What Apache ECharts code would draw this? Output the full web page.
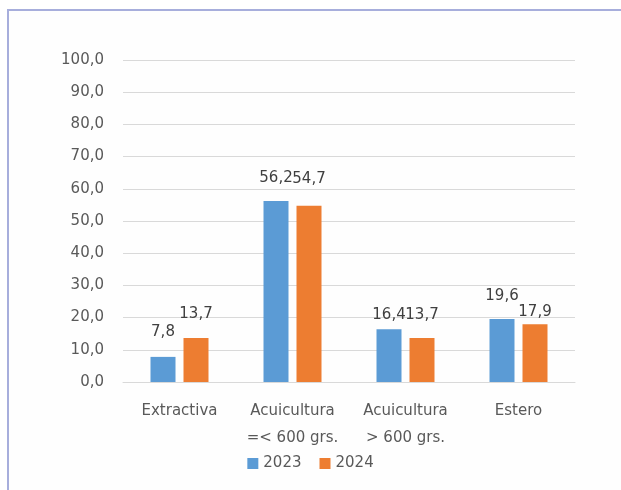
<!DOCTYPE html>
<html>
<head>
<meta charset="utf-8">
<script src="https://cdn.jsdelivr.net/npm/echarts@6/dist/echarts.min.js"></script>
<style>
  html, body { margin: 0; padding: 0; background: #ffffff; overflow: hidden; width: 621px; height: 490px; }
  #frame { position: absolute; left: 7px; top: 9px; width: 612px; height: 479px;
           border-left: 2px solid #a7aedc; border-top: 2px solid #a7aedc; background: #fefefe; }
  #chart { position: absolute; left: 0; top: 0; width: 621px; height: 490px; }
</style>
</head>
<body>
<div id="frame"></div>
<div id="chart"></div>
<script>
const categories = ['Extractiva', 'Acuicultura\n=< 600 grs.', 'Acuicultura\n> 600 grs.', 'Estero'];
const seriesNames = ['2023', '2024'];
const values2023 = [7.8, 56.2, 16.4, 19.6];
const values2024 = [13.7, 54.7, 13.7, 17.9];
const yTicks = [0, 10, 20, 30, 40, 50, 60, 70, 80, 90, 100];

// label placement tweaks (style only)
const labelDist2023 = [17, 15, 7, 15];
const labelDist2024 = [16, 19, 15, 5];

const fmt = v => v.toFixed(1).replace('.', ',');
const font = 'DejaVu Sans';

function mkData(vals, dists) {
  return vals.map((v, i) => ({ value: v, label: { distance: dists[i] } }));
}

const chart = echarts.init(document.getElementById('chart'), null, { renderer: 'canvas' });
chart.setOption({
  animation: false,
  backgroundColor: 'transparent',
  color: ['#5b9bd5', '#ed7d31'],
  grid: { left: 123, right: 46, top: 60, bottom: 108, containLabel: false },
  legend: {
    data: seriesNames,
    bottom: 14,
    left: 'center',
    itemWidth: 11, itemHeight: 11, itemGap: 18,
    icon: 'rect',
    textStyle: { fontFamily: font, fontSize: 15, color: '#595959' }
  },
  xAxis: {
    type: 'category',
    data: categories,
    axisLine: { lineStyle: { color: '#d9d9d9', width: 1 } },
    axisTick: { show: false },
    axisLabel: { fontFamily: font, fontSize: 15, color: '#595959', margin: 16, lineHeight: 27, interval: 0 }
  },
  yAxis: {
    type: 'value',
    min: 0, max: 100, interval: 10,
    axisLine: { show: false },
    axisTick: { show: false },
    splitLine: { lineStyle: { color: '#d9d9d9', width: 1 } },
    axisLabel: { fontFamily: font, fontSize: 15, color: '#595959', margin: 19,
      formatter: v => yTicks.includes(v) ? fmt(v) : '' }
  },
  series: [
    { name: seriesNames[0], type: 'bar', data: mkData(values2023, labelDist2023),
      barWidth: 25, barGap: '32%',
      label: { show: true, position: 'top', fontFamily: font, fontSize: 15, color: '#404040', formatter: p => fmt(p.value) } },
    { name: seriesNames[1], type: 'bar', data: mkData(values2024, labelDist2024),
      barWidth: 25, barGap: '32%',
      label: { show: true, position: 'top', fontFamily: font, fontSize: 15, color: '#404040', formatter: p => fmt(p.value) } }
  ]
});
</script>
</body>
</html>
